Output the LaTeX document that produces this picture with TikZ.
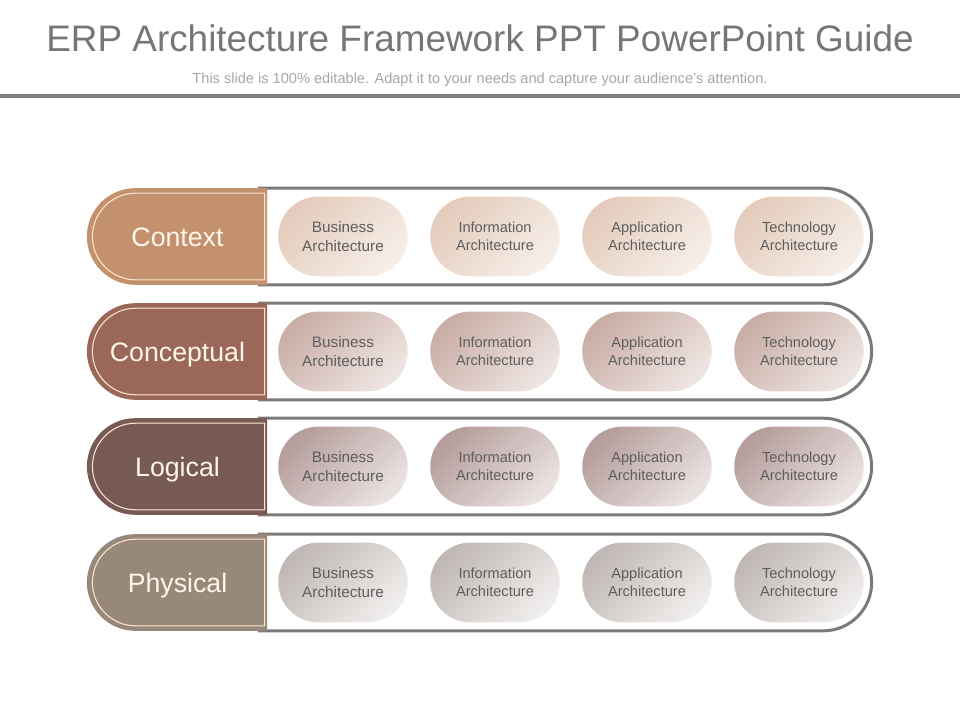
\documentclass[tikz,border=0pt]{standalone}
\usepackage{fontspec}
\setmainfont{Liberation Sans}
\usetikzlibrary{shapes.misc}
\definecolor{titlegray}{HTML}{767676}
\definecolor{subgray}{HTML}{A6A6A6}
\definecolor{rulegray}{HTML}{7F7F7F}
\definecolor{bandgray}{HTML}{7A7A7A}
\definecolor{tagtext}{HTML}{FFF6EA}
\definecolor{rimline}{HTML}{FBE7CF}
\definecolor{pilltext}{HTML}{5E5E5E}
\definecolor{tagone}{HTML}{C4916F}
\definecolor{tagtwo}{HTML}{9B6758}
\definecolor{tagthree}{HTML}{785A55}
\definecolor{tagfour}{HTML}{98887A}
\definecolor{pillonedark}{HTML}{E4CCBC}
\definecolor{pillonelight}{HTML}{F6EEE8}
\definecolor{pilltwodark}{HTML}{C9AEA6}
\definecolor{pilltwolight}{HTML}{EEE4E1}
\definecolor{pillthreedark}{HTML}{B59E9C}
\definecolor{pillthreelight}{HTML}{EAE2E1}
\definecolor{pillfourdark}{HTML}{C0B8B4}
\definecolor{pillfourlight}{HTML}{EFEDEC}

\begin{document}
\begin{tikzpicture}[x=0.02cm,y=-0.02cm,
    band/.style={rounded rectangle, rounded rectangle left arc=none, draw=bandgray, line width=1.7pt, minimum width=348.5pt, minimum height=55pt, inner sep=0pt},
    tag/.style={rounded rectangle, rounded rectangle right arc=none, minimum width=102.6pt, minimum height=55pt, inner sep=0pt, text=tagtext, text height=10.9pt, text depth=0pt, font=\fontsize{15.2pt}{18pt}\selectfont},
    tagrim/.style={rounded rectangle, rounded rectangle right arc=none, draw=rimline, line width=0.6pt, minimum width=98pt, minimum height=49.3pt, inner sep=0pt},
    pill/.style={rounded rectangle, minimum width=73.7pt, minimum height=45.4pt, inner sep=0pt, text=pilltext, align=center}]
  \useasboundingbox (0,0) rectangle (960,720);
  % heading
  \node[text=titlegray, font=\fontsize{21pt}{25pt}\selectfont] (title) at (480,38) {ERP Architecture Framework PPT PowerPoint Guide};
  \node[text=subgray, font=\fontsize{8.3pt}{10pt}\selectfont] (subtitle) at (480,80) {This slide is 100\% editable. Adapt it to your needs and capture your audience's attention.};
  \draw[rulegray, line width=2.3pt] (0,96) -- (960,96);
  % rows
  \foreach \r/\y/\lab/\tagc/\pd/\pl in {1/236.5/Context/tagone/pillonedark/pillonelight,
      2/351.5/Conceptual/tagtwo/pilltwodark/pilltwolight,
      3/466.5/Logical/tagthree/pillthreedark/pillthreelight,
      4/582.5/Physical/tagfour/pillfourdark/pillfourlight} {
    \node[band] (band\r) at (565.5,\y) {};
    \node[tag, fill=\tagc] (tag\r) at (177.5,\y) {\lab};
    \node[tagrim] (rim\r) at (178.5,\y) {};
    \foreach \c/\x/\what/\fs in {1/343/Business/8.7pt, 2/495/Information/8.3pt, 3/647/Application/8.3pt, 4/799/Technology/8.3pt}
      \node[pill, top color=\pd, bottom color=\pl, shading angle=45, font=\fontsize{\fs}{10.5pt}\selectfont] (pill\r\c) at (\x,\y) {\what\\Architecture};
  }
\end{tikzpicture}
\end{document}
